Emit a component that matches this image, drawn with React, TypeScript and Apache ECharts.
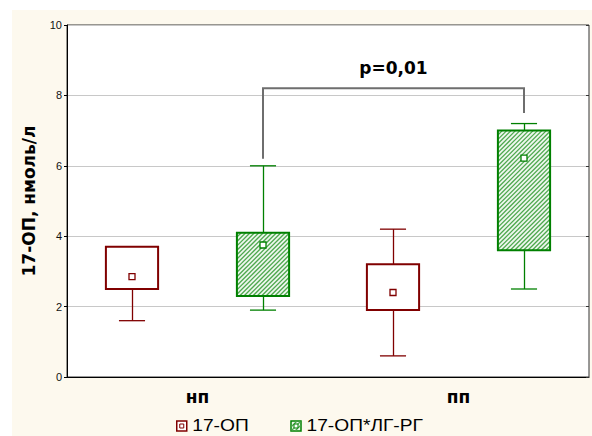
import React, { useEffect, useRef } from "react";
import * as echarts from "echarts";

const categories = ["нп", "пп"];
const seriesNames = ["17-ОП", "17-ОП*ЛГ-РГ"];
// [category, whiskerLow, boxLow, boxHigh, whiskerHigh, mean]
const opValues = [
  [0, 1.6, 2.5, 3.7, 3.7, 2.85],
  [1, 0.6, 1.9, 3.2, 4.2, 2.4],
];
const lgValues = [
  [0, 1.9, 2.3, 4.1, 6.0, 3.75],
  [1, 2.5, 3.6, 7.0, 7.2, 6.22],
];
const yMin = 0;
const yMax = 10;
const yInterval = 2;
const yTitle = "17-ОП, нмоль/л";
// [fromCategory, toCategory, bracketTop, leftEnd, rightEnd]
const bracketValues = [[0, 1, 8.2, 6.2, 7.5]];
const bracketLabel = "p=0,01";

const FONT = "'Liberation Sans', Arial, sans-serif";
const BOLDFONT = "'DejaVu Sans', Verdana, sans-serif";
const RED = "#800000";
const GREEN = "#008000";
const HATCH = "#4ea84e";
const HATCH_BG = "#eef7ee";

function makeBoxRender(offsetFrac: number, color: string, hatched: boolean) {
  return (params: any, api: any) => {
    const cat = api.value(0);
    const band = api.size([1, 0])[0];
    const cx = Math.round(api.coord([cat, 0])[0] + offsetFrac * band);
    const y = (v: number) => api.coord([cat, v])[1];
    const wLo = y(api.value(1));
    const bLo = y(api.value(2));
    const bHi = y(api.value(3));
    const wHi = y(api.value(4));
    const mean = y(api.value(5));
    const bw = band * 0.2;
    const cw = band * 0.1;
    const x0 = cx - bw / 2;
    const x1 = cx + bw / 2;
    const children: any[] = [];
    const wStyle = { stroke: color, lineWidth: 1.3 };
    children.push({ type: "line", shape: { x1: cx + 0.5, y1: bHi, x2: cx + 0.5, y2: wHi }, style: wStyle });
    children.push({ type: "line", shape: { x1: cx + 0.5, y1: bLo, x2: cx + 0.5, y2: wLo }, style: wStyle });
    children.push({ type: "line", shape: { x1: cx - cw / 2, y1: wHi, x2: cx + cw / 2, y2: wHi }, style: wStyle });
    children.push({ type: "line", shape: { x1: cx - cw / 2, y1: wLo, x2: cx + cw / 2, y2: wLo }, style: wStyle });
    children.push({
      type: "rect",
      shape: { x: x0, y: bHi, width: bw, height: bLo - bHi },
      style: { fill: hatched ? HATCH_BG : "#ffffff", stroke: null },
    });
    if (hatched) {
      const yTop = bHi;
      const yBot = bLo;
      const step = 4.4;
      for (let c = x0 + yTop; c <= x1 + yBot; c += step) {
        const xa = Math.max(x0, c - yBot);
        const xb = Math.min(x1, c - yTop);
        if (xb <= xa) continue;
        children.push({
          type: "line",
          shape: { x1: xa, y1: c - xa, x2: xb, y2: c - xb },
          style: { stroke: HATCH, lineWidth: 1.3 },
        });
      }
    }
    children.push({
      type: "rect",
      shape: { x: x0, y: bHi, width: bw, height: bLo - bHi },
      style: { fill: null, stroke: color, lineWidth: 2 },
    });
    children.push({
      type: "rect",
      shape: { x: cx - 3, y: mean - 3, width: 6, height: 6 },
      style: { fill: "#ffffff", stroke: color, lineWidth: 1.3 },
    });
    return { type: "group", children };
  };
}

function bracketRender(params: any, api: any) {
  const c1 = api.value(0);
  const c2 = api.value(1);
  const band = api.size([1, 0])[0];
  const xa = Math.round(api.coord([c1, 0])[0] + 0.25 * band);
  const xb = Math.round(api.coord([c2, 0])[0] + 0.25 * band);
  const yT = api.coord([c1, api.value(2)])[1];
  const yL = api.coord([c1, api.value(3)])[1];
  const yR = api.coord([c2, api.value(4)])[1];
  return {
    type: "group",
    children: [
      {
        type: "polyline",
        shape: { points: [[xa, yL], [xa, yT], [xb, yT], [xb, yR]] },
        style: { stroke: "#6e6e6e", lineWidth: 2, fill: null },
      },
      {
        type: "text",
        style: {
          text: bracketLabel,
          x: (xa + xb) / 2,
          y: yT - 20,
          align: "center",
          verticalAlign: "middle",
          font: `bold 17px ${BOLDFONT}`,
          fill: "#000",
        },
      },
    ],
  };
}

export default function App() {
  const ref = useRef<HTMLDivElement>(null);
  useEffect(() => {
    if (!ref.current) return;
    const chart = echarts.init(ref.current, null, { renderer: "svg" });
    const legendY = 423;
    const legendText = (t: string) => ({
      type: "text",
      x: 16,
      y: 5.5,
      scaleX: 1.2,
      style: {
        text: t,
        font: `16px ${FONT}`,
        fill: "#000",
        verticalAlign: "middle",
      },
    });
    chart.setOption({
      animation: false,
      backgroundColor: "transparent",
      grid: {
        left: 67,
        top: 25,
        right: 3,
        bottom: 59,
        show: true,
        backgroundColor: "#ffffff",
        borderColor: "#333333",
        borderWidth: 1,
      },
      xAxis: {
        type: "category",
        data: categories,
        axisLine: { lineStyle: { color: "#000", width: 1 } },
        axisTick: { alignWithLabel: true, inside: true, length: 3, lineStyle: { color: "#000" } },
        axisLabel: {
          fontFamily: BOLDFONT,
          fontWeight: "bold",
          fontSize: 17,
          color: "#000",
          margin: 11,
        },
      },
      yAxis: [
        {
          type: "value",
          min: yMin,
          max: yMax,
          interval: yInterval,
          name: yTitle,
          nameLocation: "middle",
          nameGap: 30,
          nameTextStyle: {
            fontFamily: BOLDFONT,
            fontWeight: "bold",
            fontSize: 17,
            color: "#000",
          },
          axisLine: { show: true, lineStyle: { color: "#000" } },
          axisTick: { show: true, length: 3, lineStyle: { color: "#000" } },
          axisLabel: { fontFamily: FONT, fontSize: 11, color: "#111", margin: 5 },
          splitLine: { show: true, lineStyle: { color: "#c8c8c8", width: 1 } },
        },
        {
          type: "value",
          min: yMin,
          max: yMax,
          interval: yInterval,
          position: "right",
          axisLine: { show: false },
          axisTick: { show: true, inside: true, length: 3, lineStyle: { color: "#333" } },
          axisLabel: { show: false },
          splitLine: { show: false },
        },
      ],
      series: [
        {
          name: seriesNames[0],
          type: "custom",
          renderItem: makeBoxRender(-0.25, RED, false),
          data: opValues,
          encode: { x: 0, y: [1, 2, 3, 4, 5] },
          z: 3,
        },
        {
          name: seriesNames[1],
          type: "custom",
          renderItem: makeBoxRender(0.25, GREEN, true),
          data: lgValues,
          encode: { x: 0, y: [1, 2, 3, 4, 5] },
          z: 3,
        },
        {
          type: "custom",
          renderItem: bracketRender,
          data: bracketValues,
          encode: { x: [0, 1], y: [2, 3, 4] },
          z: 4,
        },
      ],
      graphic: [
        {
          type: "group",
          left: 176,
          top: legendY - 5,
          children: [
            {
              type: "rect",
              shape: { x: 0.5, y: 0.5, width: 10, height: 10 },
              style: { fill: "#fff", stroke: RED, lineWidth: 1.5 },
            },
            {
              type: "rect",
              shape: { x: 3.5, y: 3.5, width: 4, height: 4 },
              style: { fill: "#fff", stroke: RED, lineWidth: 1 },
            },
            legendText(seriesNames[0]),
          ],
        },
        {
          type: "group",
          left: 289,
          top: legendY - 5,
          children: [
            {
              type: "rect",
              shape: { x: 0.5, y: 0.5, width: 10, height: 10 },
              style: { fill: HATCH_BG, stroke: GREEN, lineWidth: 1.5 },
            },
            { type: "line", shape: { x1: 1, y1: 6, x2: 6, y2: 1 }, style: { stroke: HATCH, lineWidth: 1.2 } },
            { type: "line", shape: { x1: 1, y1: 10, x2: 10, y2: 1 }, style: { stroke: HATCH, lineWidth: 1.2 } },
            { type: "line", shape: { x1: 5, y1: 10, x2: 10, y2: 5 }, style: { stroke: HATCH, lineWidth: 1.2 } },
            {
              type: "rect",
              shape: { x: 3.5, y: 3.5, width: 4, height: 4 },
              style: { fill: "#fff", stroke: GREEN, lineWidth: 1 },
            },
            legendText(seriesNames[1]),
          ],
        },
      ],
    });
    return () => chart.dispose();
  }, []);

  return (
    <div style={{ position: "absolute", left: 0, top: 0, width: 592, height: 436, background: "#ffffff" }}>
      <div
        style={{ position: "absolute", left: 12, top: 10, width: 580, height: 426, background: "#fdf9ee" }}
      />
      <div ref={ref} style={{ position: "absolute", left: 0, top: 0, width: 592, height: 436 }} />
    </div>
  );
}
